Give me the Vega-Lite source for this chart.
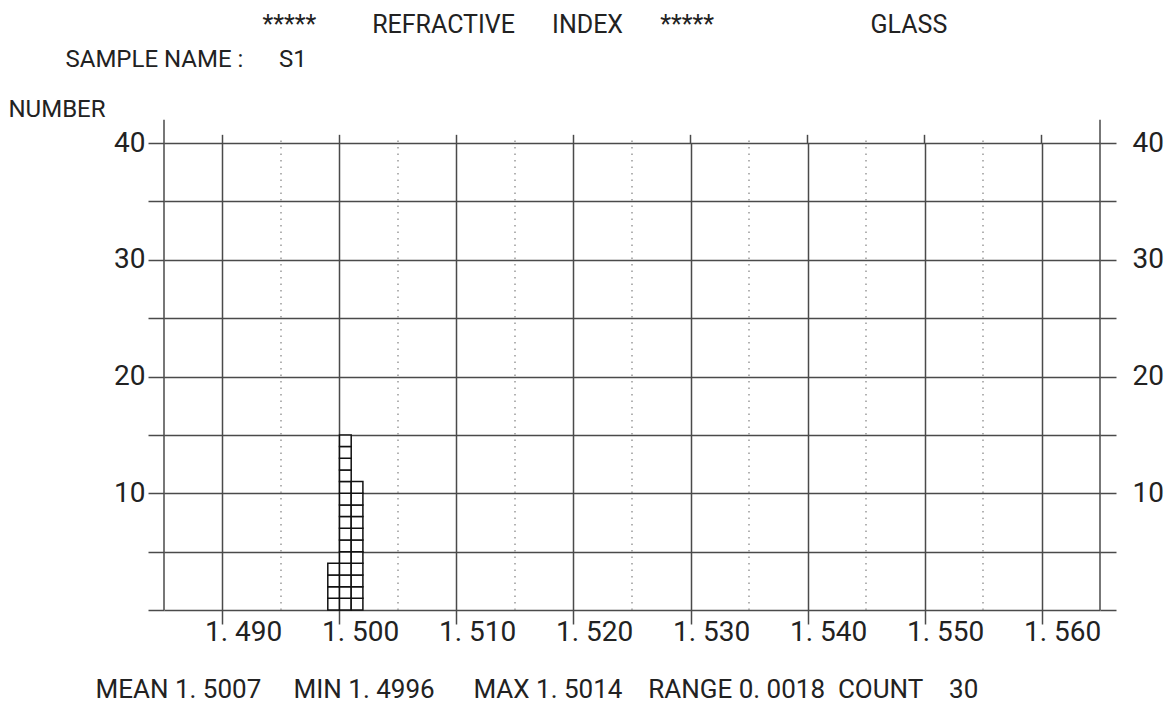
{
  "$schema": "https://vega.github.io/schema/vega-lite/v6.json",
  "width": 936,
  "height": 467,
  "autosize": {"type": "none"},
  "padding": {"left": 164, "top": 143, "right": 65, "bottom": 94},
  "background": "white",
  "config": {
    "font": "Roboto",
    "view": {"stroke": null},
    "axis": {
      "labelColor": "#222222",
      "titleColor": "#222222",
      "tickColor": "#4a4a4a",
      "tickWidth": 1.5,
      "domainColor": "#4a4a4a",
      "gridColor": "#4a4a4a",
      "gridWidth": 1.5,
      "gridOpacity": 1,
      "labelFont": "Roboto",
      "titleFont": "Roboto",
      "titleFontWeight": "normal",
      "labelOverlap": false,
      "labelFlush": false
    }
  },
  "datasets": {
    "cells": [
      {"bin_start": 1.499, "bin_end": 1.5, "unit": 1, "cell": 1},
      {"bin_start": 1.499, "bin_end": 1.5, "unit": 1, "cell": 2},
      {"bin_start": 1.499, "bin_end": 1.5, "unit": 1, "cell": 3},
      {"bin_start": 1.499, "bin_end": 1.5, "unit": 1, "cell": 4},
      {"bin_start": 1.5, "bin_end": 1.501, "unit": 1, "cell": 5},
      {"bin_start": 1.5, "bin_end": 1.501, "unit": 1, "cell": 6},
      {"bin_start": 1.5, "bin_end": 1.501, "unit": 1, "cell": 7},
      {"bin_start": 1.5, "bin_end": 1.501, "unit": 1, "cell": 8},
      {"bin_start": 1.5, "bin_end": 1.501, "unit": 1, "cell": 9},
      {"bin_start": 1.5, "bin_end": 1.501, "unit": 1, "cell": 10},
      {"bin_start": 1.5, "bin_end": 1.501, "unit": 1, "cell": 11},
      {"bin_start": 1.5, "bin_end": 1.501, "unit": 1, "cell": 12},
      {"bin_start": 1.5, "bin_end": 1.501, "unit": 1, "cell": 13},
      {"bin_start": 1.5, "bin_end": 1.501, "unit": 1, "cell": 14},
      {"bin_start": 1.5, "bin_end": 1.501, "unit": 1, "cell": 15},
      {"bin_start": 1.5, "bin_end": 1.501, "unit": 1, "cell": 16},
      {"bin_start": 1.5, "bin_end": 1.501, "unit": 1, "cell": 17},
      {"bin_start": 1.5, "bin_end": 1.501, "unit": 1, "cell": 18},
      {"bin_start": 1.5, "bin_end": 1.501, "unit": 1, "cell": 19},
      {"bin_start": 1.501, "bin_end": 1.502, "unit": 1, "cell": 20},
      {"bin_start": 1.501, "bin_end": 1.502, "unit": 1, "cell": 21},
      {"bin_start": 1.501, "bin_end": 1.502, "unit": 1, "cell": 22},
      {"bin_start": 1.501, "bin_end": 1.502, "unit": 1, "cell": 23},
      {"bin_start": 1.501, "bin_end": 1.502, "unit": 1, "cell": 24},
      {"bin_start": 1.501, "bin_end": 1.502, "unit": 1, "cell": 25},
      {"bin_start": 1.501, "bin_end": 1.502, "unit": 1, "cell": 26},
      {"bin_start": 1.501, "bin_end": 1.502, "unit": 1, "cell": 27},
      {"bin_start": 1.501, "bin_end": 1.502, "unit": 1, "cell": 28},
      {"bin_start": 1.501, "bin_end": 1.502, "unit": 1, "cell": 29},
      {"bin_start": 1.501, "bin_end": 1.502, "unit": 1, "cell": 30}
    ],
    "frame": [{"edge": 1.485}, {"edge": 1.565}],
    "major": [{"tick": 1.49}, {"tick": 1.5}, {"tick": 1.51}, {"tick": 1.52}, {"tick": 1.53}, {"tick": 1.54}, {"tick": 1.55}, {"tick": 1.56}],
    "minor": [{"tick": 1.495}, {"tick": 1.505}, {"tick": 1.515}, {"tick": 1.525}, {"tick": 1.535}, {"tick": 1.545}, {"tick": 1.555}]
  },
  "resolve": {"axis": {"x": "independent", "y": "independent"}},
  "layer": [
    {
      "data": {"name": "minor"},
      "mark": {"type": "rule", "color": "#8a8a8a", "strokeDash": [1.5, 5], "strokeWidth": 1.3},
      "encoding": {
        "x": {"field": "tick", "type": "quantitative", "scale": {"domain": [1.485, 1.565], "nice": false, "zero": false}, "axis": null},
        "y": {"datum": 0, "type": "quantitative", "scale": {"domain": [0, 40], "nice": false}, "axis": null},
        "y2": {"datum": 40.6}
      }
    },
    {
      "data": {"name": "major"},
      "mark": {"type": "rule", "color": "#4a4a4a", "strokeWidth": 1.5},
      "encoding": {
        "x": {"field": "tick", "type": "quantitative", "scale": {"domain": [1.485, 1.565], "nice": false, "zero": false}, "axis": null},
        "y": {
          "datum": 40, "type": "quantitative",
          "scale": {"domain": [0, 40], "nice": false},
          "axis": {
            "orient": "left", "ticks": false, "labels": false, "domain": false, "grid": false,
            "title": "SAMPLE NAME\u00a0:\u00a0\u00a0\u00a0\u00a0\u00a0\u00a0S1",
            "titleAngle": 0, "titleX": -99, "titleY": -77, "titleAlign": "left",
            "titleBaseline": "alphabetic", "titleFontSize": 24
          }
        },
        "y2": {"datum": 40.7}
      }
    },
    {
      "data": {"name": "frame"},
      "mark": {"type": "rule", "color": "#4a4a4a", "strokeWidth": 1.5},
      "encoding": {
        "x": {
          "field": "edge", "type": "quantitative",
          "scale": {"domain": [1.485, 1.565], "nice": false, "zero": false},
          "axis": {
            "orient": "top", "ticks": false, "labels": false, "domain": false, "grid": false,
            "title": "*****\u00a0\u00a0\u00a0\u00a0\u00a0\u00a0\u00a0\u00a0\u00a0REFRACTIVE\u00a0\u00a0\u00a0\u00a0\u00a0\u00a0INDEX\u00a0\u00a0\u00a0\u00a0\u00a0\u00a0*****",
            "titleX": 98, "titleY": -111, "titleAlign": "left", "titleBaseline": "alphabetic",
            "titleFontSize": 25
          }
        },
        "y": {
          "datum": 0, "type": "quantitative",
          "scale": {"domain": [0, 40], "nice": false},
          "axis": {
            "orient": "right",
            "values": [0, 5, 10, 15, 20, 25, 30, 35, 40],
            "tickSize": 16, "labelPadding": 16, "labelFontSize": 28,
            "labelExpr": "datum.value % 10 == 0 && datum.value > 0 ? datum.label : ''",
            "labelBaseline": "middle",
            "domain": false, "grid": false,
            "title": "GLASS", "titleAngle": 0, "titleX": -230, "titleY": -111,
            "titleAlign": "left", "titleBaseline": "alphabetic", "titleFontSize": 25
          }
        },
        "y2": {"datum": 42}
      }
    },
    {
      "data": {"name": "cells"},
      "transform": [
        {"stack": "unit", "groupby": ["bin_start"], "sort": [{"field": "cell", "order": "ascending"}], "as": ["count_lo", "count_hi"]}
      ],
      "mark": {"type": "bar", "fill": "white", "stroke": "#111111", "strokeWidth": 1.5},
      "encoding": {
        "x": {
          "field": "bin_start", "type": "quantitative",
          "scale": {"domain": [1.485, 1.565], "nice": false, "zero": false},
          "axis": {
            "orient": "bottom",
            "values": [1.49, 1.5, 1.51, 1.52, 1.53, 1.54, 1.55, 1.56],
            "labelExpr": "replace(format(datum.value, '.3f'), '.', '. ')",
            "tickSize": 14, "labelAlign": "left", "labelOffset": -18,
            "labelBaseline": "top", "labelPadding": -6, "labelFontSize": 28,
            "domain": false, "grid": true,
            "title": "MEAN\u00a01. 5007\u00a0\u00a0\u00a0\u00a0\u00a0MIN 1. 4996\u00a0\u00a0\u00a0\u00a0\u00a0\u00a0MAX 1. 5014\u00a0\u00a0\u00a0\u00a0RANGE 0. 0018\u00a0\u00a0COUNT\u00a0\u00a0\u00a0\u00a030",
            "titleX": -69, "titleY": 87, "titleAlign": "left", "titleBaseline": "alphabetic",
            "titleFontSize": 26
          }
        },
        "x2": {"field": "bin_end"},
        "y": {
          "field": "count_lo", "type": "quantitative",
          "scale": {"domain": [0, 40], "nice": false},
          "axis": {
            "orient": "left",
            "values": [0, 5, 10, 15, 20, 25, 30, 35, 40],
            "tickSize": 16, "labelPadding": 3, "labelFontSize": 28,
            "labelExpr": "datum.value % 10 == 0 && datum.value > 0 ? datum.label : ''",
            "labelBaseline": "middle",
            "domain": false, "grid": true,
            "title": "NUMBER",
            "titleAngle": 0, "titleX": -156, "titleY": -27, "titleAlign": "left",
            "titleBaseline": "alphabetic", "titleFontSize": 24
          }
        },
        "y2": {"field": "count_hi"}
      }
    }
  ]
}
